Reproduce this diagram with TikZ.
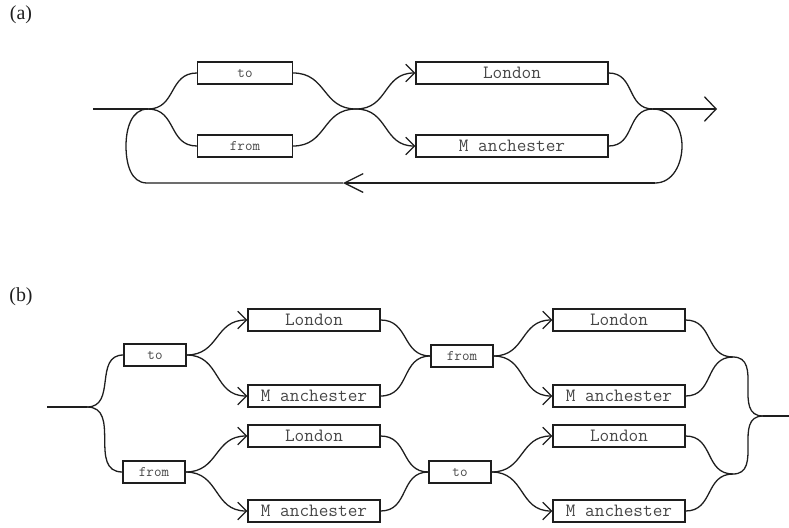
\documentclass[tikz,border=0pt]{standalone}
\usepackage{fontspec}
\setmainfont{Liberation Serif}
\usetikzlibrary{arrows.meta,positioning}
\definecolor{linegray}{RGB}{30,30,30}
\definecolor{textgray}{RGB}{70,70,70}

\begin{document}
\begin{tikzpicture}[x=0.03cm,y=0.03cm,line width=1.1pt,color=linegray,
  every node/.style={font=\ttfamily},
  wordbox/.style={draw=linegray,line width=1pt,minimum height=0.66cm,inner sep=0pt,text=textgray},
  shortword/.style={wordbox,font=\ttfamily\fontsize{12.5}{14}\selectfont},
  longword/.style={wordbox,font=\ttfamily\fontsize{16}{18}\selectfont},
  partlabel/.style={font=\rmfamily\fontsize{17}{20}\selectfont,text=linegray},
  sbend/.style={out=0,in=180,looseness=1.2},
  >={Straight Barb[length=7.5pt,width=15pt]},
  exittip/.style={-{Straight Barb[length=10pt,width=21pt]}},
  looptip/.style={-{Straight Barb[length=16pt,width=16pt]}}]
  \useasboundingbox (0,0) rectangle (789,-527);

  % (a) loop diagram
  \node[partlabel] (laba) at (21,-15) {(a)};
  \coordinate (a-in) at (93,-109);
  \coordinate (a-split) at (148,-109);
  \node[shortword,minimum width=2.85cm] (a-to) at (245,-73) {to};
  \node[shortword,minimum width=2.85cm] (a-from) at (245,-146) {from};
  \coordinate (a-mid) at (356,-109);
  \node[longword,minimum width=5.76cm] (a-lon) at (512,-73) {London};
  \node[longword,minimum width=5.76cm] (a-man) at (512,-146) {M anchester};
  \coordinate (a-join) at (653,-109);
  \coordinate (a-out) at (717,-109);
  \coordinate (a-loopr) at (682,-146);
  \coordinate (a-loopbr) at (655,-183);
  \coordinate (a-looptip) at (343,-183);
  \coordinate (a-loopbl) at (147,-183);
  \coordinate (a-loopl) at (126,-146);

  \draw (a-in) -- (a-split);
  \draw (a-split) to[sbend] (a-to.west);
  \draw (a-split) to[sbend] (a-from.west);
  \draw (a-to.east) to[sbend] (a-mid);
  \draw (a-from.east) to[sbend] (a-mid);
  \draw[->] (a-mid) to[sbend] (a-lon.west);
  \draw[->] (a-mid) to[sbend] (a-man.west);
  \draw (a-lon.east) to[sbend] (a-join);
  \draw (a-man.east) to[sbend] (a-join);
  \draw[exittip] (a-join) -- (a-out);
  \draw (a-join) to[out=0,in=90] (a-loopr) to[out=-90,in=0] (a-loopbr);
  \draw[looptip] (a-loopbr) -- (a-looptip);
  \draw (a-looptip) -- (a-loopbl) to[out=180,in=-90] (a-loopl)
    to[out=90,in=180] (a-split);

  % (b) unrolled diagram
  \node[partlabel] (labb) at (21,-297) {(b)};
  \coordinate (b-in) at (47,-407);
  \coordinate (b-split) at (87,-407);
  \node[shortword,minimum width=1.86cm] (b-to) at (155,-355) {to};
  \node[shortword,minimum width=1.86cm] (b-from) at (154,-472) {from};
  \node[shortword,minimum width=1.86cm] (b-from2) at (462,-356) {from};
  \node[shortword,minimum width=1.86cm] (b-to2) at (460,-472) {to};
  \foreach \c/\x in {1/314,2/619}{
    \node[longword,minimum width=3.96cm] (b-lon\c a) at (\x,-320) {London};
    \node[longword,minimum width=3.96cm] (b-man\c a) at (\x,-396) {M anchester};
    \node[longword,minimum width=3.96cm] (b-lon\c b) at (\x,-436) {London};
    \node[longword,minimum width=3.96cm] (b-man\c b) at (\x,-511) {M anchester};
  }
  \coordinate (b-joina) at (733,-357);
  \coordinate (b-joinb) at (733,-474);
  \coordinate (b-join) at (763,-416);
  \coordinate (b-out) at (789,-416);

  \draw (b-in) -- (b-split);
  \draw (b-split) to[sbend] (b-to.west);
  \draw (b-split) to[sbend] (b-from.west);
  \foreach \r/\s/\t in {a/b-to/b-from2,b/b-from/b-to2}{
    \draw[->] (\s.east) to[sbend] (b-lon1\r.west);
    \draw[->] (\s.east) to[sbend] (b-man1\r.west);
    \draw (b-lon1\r.east) to[sbend] (\t.west);
    \draw (b-man1\r.east) to[sbend] (\t.west);
    \draw[->] (\t.east) to[sbend] (b-lon2\r.west);
    \draw[->] (\t.east) to[sbend] (b-man2\r.west);
    \draw (b-lon2\r.east) to[sbend] (b-join\r);
    \draw (b-man2\r.east) to[sbend] (b-join\r);
    \draw (b-join\r) to[sbend] (b-join);
  }
  \draw (b-join) -- (b-out);
\end{tikzpicture}
\end{document}
